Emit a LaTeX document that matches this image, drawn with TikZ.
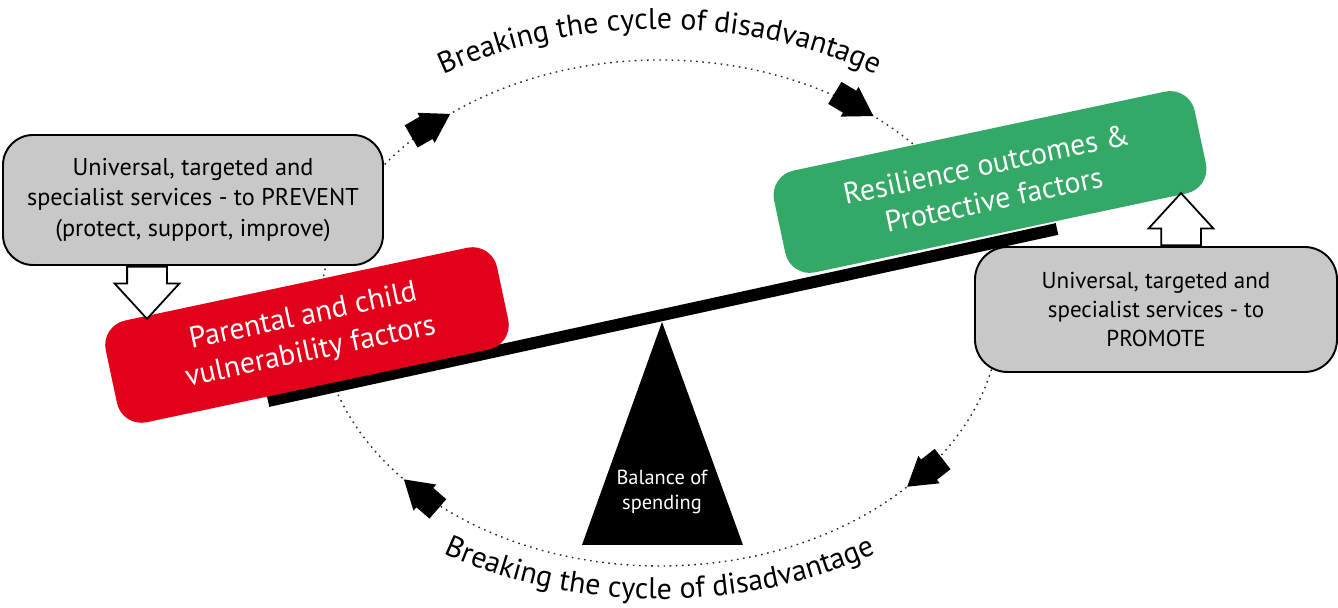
\documentclass[tikz,border=0pt]{standalone}
\usepackage{fontspec}
\setmainfont{PT Sans}
\usepackage{tikz}
\usetikzlibrary{shapes.arrows, decorations.text, calc}

\definecolor{riskred}{RGB}{226,0,26}
\definecolor{resgreen}{RGB}{52,168,102}
\definecolor{servgray}{RGB}{200,200,200}

\newcommand{\cyclefont}{\fontsize{17}{20}\selectfont}

\begin{document}
\begin{tikzpicture}[
        factor/.style={rectangle, rounded corners=0.5cm, rotate=12, text=white, align=center, inner sep=0pt, font=\fontsize{17}{20.5}\selectfont},
        service/.style={rectangle, draw=black, line width=1.1pt, fill=servgray, rounded corners=0.6cm, align=center, inner sep=0pt},
        hollow/.style={single arrow, draw=black, line width=1pt, fill=white, minimum height=1.04cm, minimum width=0pt, inner xsep=0pt, inner ysep=0.38cm, single arrow head extend=0.25cm, single arrow tip angle=85},
        cycarrow/.style={single arrow, fill=black, minimum height=0.9cm, minimum width=0pt, inner xsep=0pt, inner ysep=0.25cm, single arrow head extend=0.09cm, single arrow tip angle=64},
        cycline/.style={line width=0.8pt, black!85, dash pattern=on 0.9pt off 2.6pt},
        cycletext/.style={decorate, decoration={text along path, text align=center, text={|\cyclefont|Breaking the cycle of disadvantage}}}
    ]
    \useasboundingbox (0,0) rectangle (26.76,12.16);

    % Cycle
    \coordinate (cycmid) at (13.2,5.9);
    \draw[cycline] (cycmid) ellipse [x radius=6.8, y radius=5.06];
    \path[cycletext] ($(13.2,5.88)+(172:7.96 and 5.7)$) arc[start angle=172, end angle=8, x radius=7.96, y radius=5.7];
    \path[cycletext] ($(13.2,5.88)+(188:7.96 and 5.7)$) arc[start angle=188, end angle=352, x radius=7.96, y radius=5.7];
    \foreach \t/\a [count=\i] in {128/30, 51/-31, -43.5/218, 221/139}
        \node[cycarrow, rotate=\a, anchor=tip] (cyc\i) at ($(cycmid)+(\t:6.8 and 5.06)$) {};

    % Balance
    \coordinate (beamL) at (5.36,4.14);
    \coordinate (beamR) at (21.14,7.58);
    \draw[line width=0.24cm] (beamL) -- (beamR);
    \fill (11.64,1.26) -- (13.24,5.72) -- (14.86,1.26) -- cycle;
    \node[text=white, align=center, font=\fontsize{11.6}{13.8}\selectfont] (fulcrum) at (13.24,2.32) {Balance of\\spending};

    % Factors
    \node[factor, fill=riskred, minimum width=8cm, minimum height=2.08cm] (vuln) at (6.14,5.46) {Parental and child\\vulnerability factors};
    \node[factor, fill=resgreen, minimum width=8.6cm, minimum height=2.08cm] (resil) at (19.8,8.52) {Resilience outcomes \&\\Protective factors};

    % Services
    \node[service, minimum width=7.6cm, minimum height=2.6cm, font=\fontsize{13.8}{17.4}\selectfont] (prevent) at (3.86,8.16) {Universal, targeted and\\specialist services - to PREVENT\\(protect, support, improve)};
    \node[service, minimum width=7.24cm, minimum height=2.5cm, rounded corners=0.65cm, font=\fontsize{13.1}{16.5}\selectfont] (promote) at (23.12,5.97) {Universal, targeted and\\specialist services - to\\PROMOTE};
    \node[hollow, rotate=-90, anchor=tail] (prevarrow) at ([xshift=-0.92cm]prevent.south) {};
    \node[hollow, rotate=90, anchor=tail] (promarrow) at ([xshift=0.5cm]promote.north) {};
\end{tikzpicture}
\end{document}
